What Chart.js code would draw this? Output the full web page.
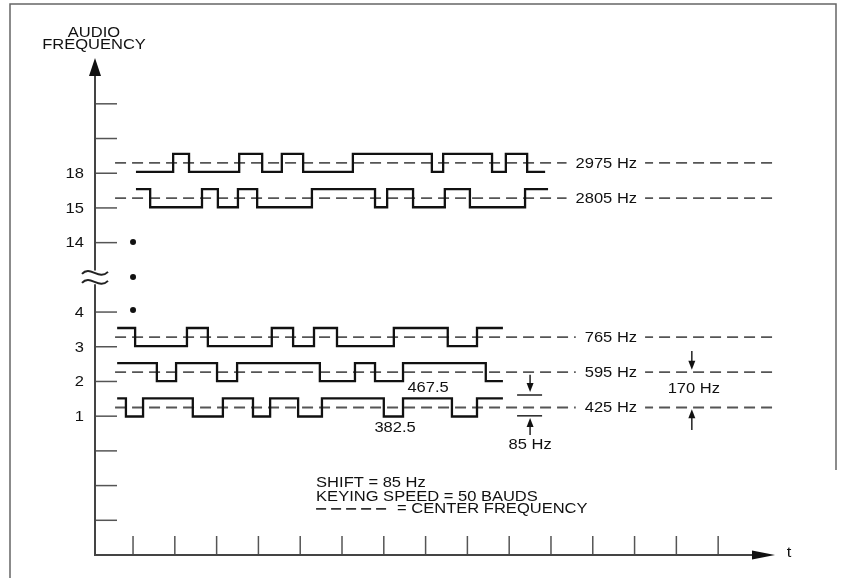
<!DOCTYPE html>
<html>
<head>
<meta charset="utf-8">
<script src="https://cdn.jsdelivr.net/npm/chart.js@4.4.1/dist/chart.umd.min.js"></script>
<style>
  body { margin: 0; background: #fff; }
  canvas { display: block; }
</style>
</head>
<body>
<canvas id="fsk" width="846" height="578"></canvas>
<script>
// time axis: one unit per tick mark
const xTicks = [1, 2, 3, 4, 5, 6, 7, 8, 9, 10, 11, 12, 13, 14, 15];
// vertical axis in tick rows, row 8 is the break
const yTicks = [1, 2, 3, 4, 5, 6, 7, 9, 10, 11, 12, 13];
const yTickLabels = ['', '', '', '1', '2', '3', '4', '14', '15', '18', '', ''];

const toneLabels = ['2975 Hz', '2805 Hz', '765 Hz', '595 Hz', '425 Hz'];
const toneCenters = [11.30, 10.28, 6.28, 5.27, 4.25];
const halfShift = 0.26;

// keying edges (t) and the level of each bit between them (1 = upper tone)
const edges2975 = [1.07, 1.96, 2.34, 3.54, 4.09, 4.56, 5.07, 6.26, 8.15, 8.42, 9.59, 9.92, 10.43, 10.86];
const bits2975 = [0, 1, 0, 1, 0, 1, 0, 1, 0, 1, 0, 1, 0];
const edges2805 = [1.07, 1.41, 2.65, 3.03, 3.51, 3.97, 5.28, 6.79, 7.08, 7.70, 8.46, 9.06, 10.38, 10.93];
const bits2805 = [1, 0, 1, 0, 1, 0, 1, 0, 1, 0, 1, 0, 1];
const edges765 = [0.62, 1.05, 2.29, 2.79, 4.32, 4.83, 5.33, 5.88, 7.24, 8.53, 9.23, 9.85];
const bits765 = [1, 0, 1, 0, 1, 0, 1, 0, 1, 0, 1];
const edges595 = [0.62, 1.57, 2.03, 3.01, 3.49, 5.47, 6.31, 6.79, 7.46, 9.44, 9.85];
const bits595 = [1, 0, 1, 0, 1, 0, 1, 0, 1, 0];
const edges425 = [0.62, 0.83, 1.24, 2.43, 3.15, 3.87, 4.28, 4.95, 5.52, 7.00, 7.46, 8.63, 9.23, 9.85];
const bits425 = [1, 0, 1, 0, 1, 0, 1, 0, 1, 0, 1, 0, 1];

const dotT = [1, 1, 1];
const dotRows = [9.02, 8.01, 7.06];

const toneLineStart = 0.57;
const toneLineEnd = 16.3;
const toneLabelT = 13.06;

function keyed(edges, bits, center) {
  const pts = bits.map((b, i) => ({ x: edges[i], y: center + (b ? halfShift : -halfShift) }));
  pts.push({ x: edges[edges.length - 1], y: pts[pts.length - 1].y });
  return pts;
}

const waves = [
  keyed(edges2975, bits2975, toneCenters[0]),
  keyed(edges2805, bits2805, toneCenters[1]),
  keyed(edges765, bits765, toneCenters[2]),
  keyed(edges595, bits595, toneCenters[3]),
  keyed(edges425, bits425, toneCenters[4]),
];

const FONT = '14px "Liberation Sans", Arial, sans-serif';
const SX = 1.18;

function txt(ctx, s, x, y, align) {
  ctx.save();
  ctx.translate(x, y);
  ctx.scale(SX, 1);
  ctx.font = FONT;
  ctx.fillStyle = '#111';
  ctx.textAlign = align || 'left';
  ctx.textBaseline = 'middle';
  ctx.fillText(s, 0, 0);
  ctx.restore();
}

function arrow(ctx, x, yFrom, yTip) {
  const dir = yTip > yFrom ? 1 : -1;
  ctx.beginPath();
  ctx.moveTo(x, yFrom);
  ctx.lineTo(x, yTip - dir * 6);
  ctx.stroke();
  ctx.beginPath();
  ctx.moveTo(x, yTip);
  ctx.lineTo(x - 3.5, yTip - dir * 9);
  ctx.lineTo(x + 3.5, yTip - dir * 9);
  ctx.closePath();
  ctx.fill();
}

const diagram = {
  id: 'diagram',
  beforeDatasetsDraw(chart) {
    const ctx = chart.ctx;
    const xs = chart.scales.x, ys = chart.scales.y;
    const ax = xs.getPixelForValue(xs.min);
    const ay = ys.getPixelForValue(0);
    const top = ys.getPixelForValue(ys.max);
    const right = xs.getPixelForValue(xs.max);

    ctx.save();
    // frame
    ctx.strokeStyle = '#666';
    ctx.lineWidth = 1.5;
    ctx.beginPath();
    ctx.moveTo(10, 578);
    ctx.lineTo(10, 4);
    ctx.lineTo(836, 4);
    ctx.lineTo(836, 470);
    ctx.stroke();

    // ticks
    ctx.strokeStyle = '#555';
    ctx.lineWidth = 1.5;
    yTicks.forEach((v, i) => {
      const y = ys.getPixelForValue(v);
      ctx.beginPath();
      ctx.moveTo(ax, y);
      ctx.lineTo(ax + 22, y);
      ctx.stroke();
      if (yTickLabels[i]) txt(ctx, yTickLabels[i], ax - 11, y + 1, 'right');
    });
    xTicks.forEach(v => {
      const x = xs.getPixelForValue(v);
      ctx.beginPath();
      ctx.moveTo(x, ay);
      ctx.lineTo(x, ay - 19);
      ctx.stroke();
    });

    // axes with break at row 8
    ctx.strokeStyle = '#444';
    ctx.fillStyle = '#111';
    ctx.lineWidth = 2;
    const bUp = ys.getPixelForValue(8.2), bLo = ys.getPixelForValue(7.8);
    ctx.beginPath();
    ctx.moveTo(ax, ay);
    ctx.lineTo(ax, bLo);
    ctx.moveTo(ax, bUp);
    ctx.lineTo(ax, top + 14);
    ctx.moveTo(ax - 1, ay);
    ctx.lineTo(right - 18, ay);
    ctx.stroke();
    ctx.beginPath();
    ctx.moveTo(ax, top);
    ctx.lineTo(ax - 6, top + 18);
    ctx.lineTo(ax + 6, top + 18);
    ctx.closePath();
    ctx.fill();
    ctx.beginPath();
    ctx.moveTo(right, ay);
    ctx.lineTo(right - 23, ay - 4.5);
    ctx.lineTo(right - 23, ay + 4.5);
    ctx.closePath();
    ctx.fill();

    // break symbol
    const bc = ys.getPixelForValue(8);
    ctx.strokeStyle = '#222';
    ctx.lineWidth = 2;
    [-4.5, 4.5].forEach(d => {
      const y = bc + d;
      ctx.beginPath();
      ctx.moveTo(ax - 13, y + 1);
      ctx.bezierCurveTo(ax - 5, y - 8, ax + 4, y + 8, ax + 13, y - 1);
      ctx.stroke();
    });

    txt(ctx, 'AUDIO', ax - 1, 33, 'center');
    txt(ctx, 'FREQUENCY', ax - 1, 45, 'center');
    txt(ctx, 't', right + 14, ay - 2, 'center');
    ctx.restore();
  },
  afterDatasetsDraw(chart) {
    const ctx = chart.ctx;
    const xs = chart.scales.x, ys = chart.scales.y;
    ctx.save();
    ctx.font = FONT;
    // tone labels on the centre lines
    toneLabels.forEach((s, i) => {
      const xr = xs.getPixelForValue(toneLabelT);
      const y = ys.getPixelForValue(toneCenters[i]);
      const w = ctx.measureText(s).width * SX;
      ctx.fillStyle = '#fff';
      ctx.fillRect(xr - w - 9, y - 8, w + 17, 16);
      txt(ctx, s, xr, y + 1, 'right');
    });

    ctx.strokeStyle = '#222';
    ctx.fillStyle = '#111';
    ctx.lineWidth = 1.5;

    // 85 Hz shift marker
    const sx = xs.getPixelForValue(10.5);
    [4.61, 4.01].forEach(v => {
      const y = ys.getPixelForValue(v);
      ctx.beginPath();
      ctx.moveTo(sx - 13, y);
      ctx.lineTo(sx + 12, y);
      ctx.stroke();
    });
    arrow(ctx, sx, ys.getPixelForValue(5.19), ys.getPixelForValue(4.70));
    arrow(ctx, sx, ys.getPixelForValue(3.46), ys.getPixelForValue(3.95));
    txt(ctx, '85 Hz', sx, ys.getPixelForValue(3.17), 'center');

    // 170 Hz spacing marker
    const cx = xs.getPixelForValue(14.37);
    arrow(ctx, cx, ys.getPixelForValue(5.88), ys.getPixelForValue(5.34));
    arrow(ctx, cx, ys.getPixelForValue(3.60), ys.getPixelForValue(4.20));
    txt(ctx, '170 Hz', cx + 2, ys.getPixelForValue(4.78), 'center');

    txt(ctx, '467.5', xs.getPixelForValue(8.06), ys.getPixelForValue(4.81), 'center');
    txt(ctx, '382.5', xs.getPixelForValue(7.27), ys.getPixelForValue(3.66), 'center');

    // notes
    const nx = xs.getPixelForValue(5.38);
    txt(ctx, 'SHIFT = 85 Hz', nx, ys.getPixelForValue(2.07));
    txt(ctx, 'KEYING SPEED = 50 BAUDS', nx, ys.getPixelForValue(1.67));
    const ly = ys.getPixelForValue(1.33);
    ctx.strokeStyle = '#333';
    ctx.lineWidth = 1.6;
    ctx.setLineDash([10, 5]);
    ctx.beginPath();
    ctx.moveTo(nx, ly);
    ctx.lineTo(nx + 72, ly);
    ctx.stroke();
    ctx.setLineDash([]);
    txt(ctx, '= CENTER FREQUENCY', nx + 81, ly);
    ctx.restore();
  }
};

const datasets = [];
waves.forEach(w => datasets.push({
  type: 'line', data: w, stepped: true, borderColor: '#111', borderWidth: 2.3,
  pointRadius: 0, fill: false
}));
toneCenters.forEach(c => datasets.push({
  type: 'line', data: [{ x: toneLineStart, y: c }, { x: toneLineEnd, y: c }],
  borderColor: '#555', borderWidth: 1.8, borderDash: [11, 6], pointRadius: 0, fill: false
}));
datasets.push({
  type: 'scatter', data: dotT.map((t, i) => ({ x: t, y: dotRows[i] })),
  pointRadius: 3, pointBackgroundColor: '#111', pointBorderWidth: 0
});

new Chart(document.getElementById('fsk'), {
  type: 'line',
  data: { datasets },
  options: {
    responsive: false,
    animation: false,
    layout: { padding: { left: 95, right: 71, top: 58, bottom: 23 } },
    plugins: { legend: { display: false }, tooltip: { enabled: false } },
    scales: {
      x: { type: 'linear', min: 0.09, max: 16.36, display: false },
      y: { type: 'linear', min: 0, max: 14.32, display: false }
    }
  },
  plugins: [diagram]
});
</script>
</body>
</html>
